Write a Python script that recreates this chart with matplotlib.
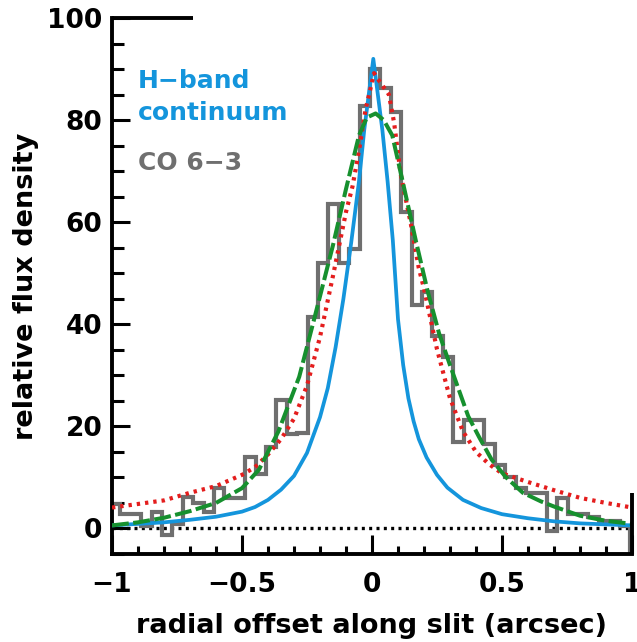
import numpy as np
import matplotlib
matplotlib.use("Agg")
import matplotlib.pyplot as plt
from matplotlib.ticker import MultipleLocator, FixedLocator, FixedFormatter

# CO 6-3 slit profile (step histogram, 0.04" pixels)
co_edges = [-1.0] + [round(-0.968 + 0.04 * k, 3) for k in range(50)] + [1.0]
co_flux = [4.8, 2.9, 2.9, 0.4, 3.2, -1.3, 0.8, 6.2, 5.0, 3.2,
           7.9, 6.0, 6.0, 14.0, 10.7, 16.0, 25.1, 18.5, 18.8, 41.5,
           52.0, 63.6, 52.0, 54.8, 82.7, 90.0, 86.2, 81.5, 62.0, 43.8,
           46.3, 37.8, 33.6, 17.0, 21.3, 21.3, 16.5, 12.4, 10.1, 7.9,
           6.9, 6.9, -0.5, 6.0, 2.9, 2.9, 2.2, 1.5, 1.5, 0.4, -8.0]

# H-band continuum profile
hband_x = [-1.0, -0.9, -0.8, -0.7, -0.6, -0.5, -0.45, -0.4, -0.35, -0.3,
           -0.25, -0.2, -0.17, -0.14, -0.11, -0.08, -0.05, -0.03, -0.01, 0.005,
           0.02, 0.04, 0.06, 0.08, 0.1, 0.12, 0.14, 0.16, 0.18, 0.21,
           0.25, 0.29, 0.35, 0.42, 0.5, 0.6, 0.7, 0.8, 0.9, 1.0]
hband_y = [0.6, 0.9, 1.2, 1.7, 2.3, 3.3, 4.2, 5.6, 7.6, 10.3,
           14.8, 21.8, 27.5, 35.5, 45.0, 56.0, 68.0, 78.0, 86.0, 92.0,
           86.0, 78.0, 68.0, 56.5, 41.0, 32.0, 25.5, 21.0, 17.5, 13.9,
           10.5, 8.0, 5.6, 4.0, 2.8, 2.0, 1.4, 1.0, 0.8, 0.6]

# model profile 1 (dotted red)
red_x = [-1.0, -0.9, -0.8, -0.7, -0.6, -0.5, -0.45, -0.4, -0.35, -0.3,
         -0.25, -0.2, -0.15, -0.1, -0.075, -0.05, -0.025, 0.008, 0.03, 0.065,
         0.085, 0.11, 0.15, 0.18, 0.2, 0.25, 0.3, 0.35, 0.4, 0.45,
         0.5, 0.6, 0.7, 0.8, 0.9, 1.0]
red_y = [4.1, 4.8, 5.5, 7.0, 8.3, 10.5, 12.0, 14.5, 17.5, 21.5,
         28.0, 37.5, 49.5, 62.0, 67.0, 74.0, 82.0, 89.2, 87.5, 85.0,
         79.5, 69.5, 59.5, 51.0, 47.0, 35.1, 25.5, 19.0, 15.0, 12.6,
         10.8, 9.1, 7.5, 6.0, 5.0, 4.1]

# model profile 2 (dashed green)
green_x = [-1.0, -0.9, -0.8, -0.7, -0.6, -0.5, -0.435, -0.36, -0.28, -0.22,
           -0.15, -0.1, -0.05, -0.02, 0.014, 0.045, 0.078, 0.117, 0.168, 0.213,
           0.258, 0.3, 0.335, 0.37, 0.412, 0.46, 0.514, 0.58, 0.65, 0.7,
           0.8, 0.9, 1.0]
green_y = [0.6, 1.2, 2.1, 3.4, 5.0, 7.9, 11.5, 19.0, 29.7, 41.5,
           55.5, 66.5, 77.0, 80.5, 81.3, 80.0, 77.0, 68.2, 56.5, 46.7,
           38.2, 32.0, 27.0, 22.0, 17.9, 13.5, 10.1, 7.0, 5.3, 4.3,
           2.5, 1.5, 0.9]

x_ticks = [-1, -0.5, 0, 0.5, 1]
x_ticklabels = ["\u22121", "\u22120.5", "0", "0.5", "1"]
y_ticks = [0, 20, 40, 60, 80, 100]

BLUE = "#1495dc"
GRAY = "#6f6f6f"
RED = "#e41d1d"
GREEN = "#16902e"

plt.rcParams["font.family"] = ["DejaVu Sans"]
plt.rcParams["font.weight"] = "bold"

fig = plt.figure(figsize=(6.37, 6.42), dpi=100)
ax = fig.add_axes([112 / 637, 1 - 554 / 642, 520 / 637, 536 / 642])

ax.set_xlim(-1, 1)
ax.set_ylim(-5, 100)

ax.plot([-1, 1], [0, 0], color="black", lw=2.4, ls=(0, (0.9, 1.3)), zorder=1)
ax.plot(hband_x, hband_y, color=BLUE, lw=2.7, zorder=3)
ax.stairs(co_flux, co_edges, baseline=None, color=GRAY, lw=3.0, zorder=2)
ax.plot(red_x, red_y, color=RED, lw=3.0, ls=(0, (0.8, 1.2)), zorder=4)
ax.plot(green_x, green_y, color=GREEN, lw=2.9, ls=(0, (4.2, 1.1)), zorder=5)

ax.text(-0.9, 86.3, "H\u2212band", color=BLUE, fontsize=18, fontweight="bold")
ax.text(-0.9, 80.0, "continuum", color=BLUE, fontsize=18, fontweight="bold")
ax.text(-0.9, 70.2, "CO 6\u22123", color=GRAY, fontsize=18, fontweight="bold")

# frame: full left and bottom, short pieces on top and right
for side in ("top", "right"):
    ax.spines[side].set_visible(False)
for side in ("left", "bottom"):
    ax.spines[side].set_linewidth(2.8)
ax.plot([-1, -0.69], [100, 100], color="black", lw=2.8, clip_on=False,
        solid_capstyle="butt", zorder=6)
ax.plot([1, 1], [-5, 7], color="black", lw=2.8, clip_on=False,
        solid_capstyle="butt", zorder=6)

ax.xaxis.set_major_locator(FixedLocator(x_ticks))
ax.xaxis.set_major_formatter(FixedFormatter(x_ticklabels))
ax.xaxis.set_minor_locator(MultipleLocator(0.1))
ax.yaxis.set_major_locator(FixedLocator(y_ticks))
ax.yaxis.set_minor_locator(MultipleLocator(5))

ax.tick_params(axis="both", which="both", direction="in", width=2.2,
               top=False, right=False, labelsize=19)
ax.tick_params(axis="x", which="major", length=13.5, pad=13)
ax.tick_params(axis="x", which="minor", length=6)
ax.tick_params(axis="y", which="major", length=13, pad=7)
ax.tick_params(axis="y", which="minor", length=8.5)
for lab in ax.get_xticklabels() + ax.get_yticklabels():
    lab.set_fontweight("bold")

ax.set_xlabel("radial offset along slit (arcsec)", fontsize=19.5,
              fontweight="bold", labelpad=11)
ax.set_ylabel("relative flux density", fontsize=19.5, fontweight="bold",
              labelpad=6)

fig.savefig("out.png", dpi=100)
